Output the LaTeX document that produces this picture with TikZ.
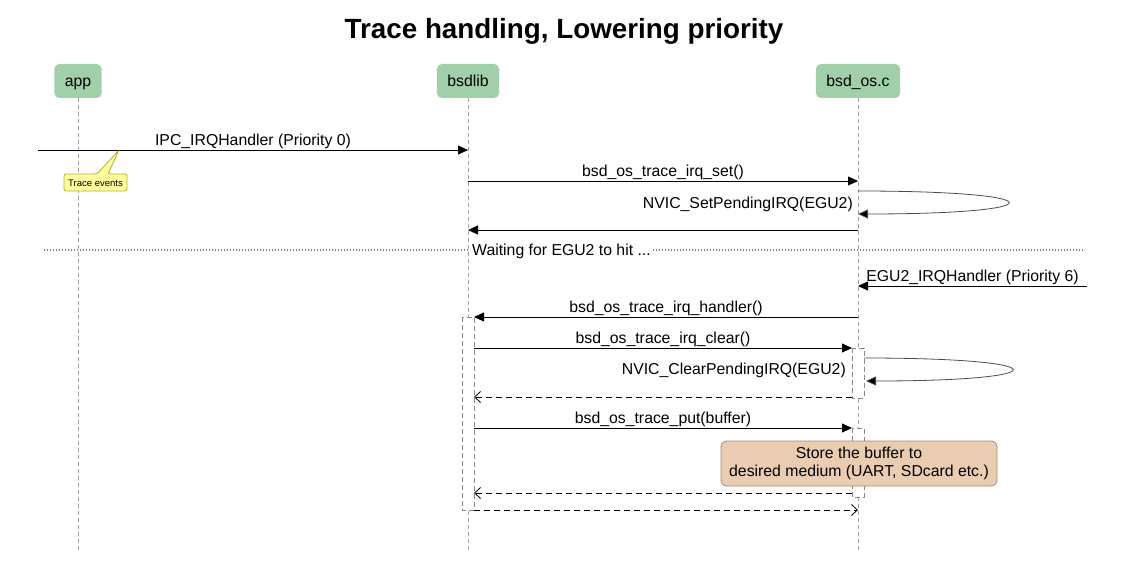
\documentclass[tikz,border=0pt]{standalone}
\usepackage{fontspec}
\setmainfont{Liberation Sans}
\usetikzlibrary{arrows.meta}

\definecolor{headgreen}{RGB}{161,207,170}
\definecolor{lifegray}{RGB}{160,160,160}
\definecolor{actgray}{RGB}{135,135,135}
\definecolor{notefill}{RGB}{255,255,158}
\definecolor{notedraw}{RGB}{176,176,60}
\definecolor{storefill}{RGB}{233,204,178}
\definecolor{storedraw}{RGB}{178,140,104}

\tikzset{
  head/.style={fill=headgreen, rounded corners=5pt, minimum height=34pt, inner xsep=10.5pt,
               text height=13pt, text depth=2pt},
  lifeline/.style={draw=lifegray, line width=1pt, dash pattern=on 4pt off 3pt},
  actbox/.style={draw=actgray, fill=white, line width=0.9pt, dash pattern=on 5pt off 3pt},
  call/.style={draw, line width=0.8pt, -{Triangle[length=10pt,width=9pt]}},
  selfcall/.style={draw=black!70, line width=0.8pt, -{Triangle[length=10pt,width=9pt,fill=black]}},
  reply/.style={draw, line width=0.8pt, dash pattern=on 6pt off 4pt, -{Straight Barb[length=6pt,width=11pt]}},
  msg/.style={above=0pt, inner sep=1pt},
}

\begin{document}
\begin{tikzpicture}[x=1pt,y=-1pt,font=\fontsize{15.8}{18.5}\selectfont]
  \useasboundingbox (0,0) rectangle (1128,569);

  \node[font=\fontsize{27.8}{32}\selectfont\bfseries, anchor=base] (title) at (564,39)
    {Trace handling, Lowering priority};

  % heads and lifelines
  \begin{scope}[every node/.style={head}]
    \node (app) at (78,81)  {app};
    \node (lib) at (468,81) {bsdlib};
    \node (os)  at (858,81) {bsd\_os.c};
  \end{scope}

  \coordinate (app-end) at (78,550);
  \coordinate (lib-end) at (468,550);
  \coordinate (os-end)  at (858,550);
  \draw[lifeline] (app) -- (app-end);
  \draw[lifeline] (lib) -- (lib-end);
  \draw[lifeline] (os)  -- (os-end);

  % activations
  \draw[actbox] (462,317) rectangle (474,510);
  \draw[actbox] (852,348) rectangle (864,398);
  \draw[actbox] (852,428) rectangle (864,497);

  % message end points
  \coordinate (ipc)  at (38,150);   \coordinate (l1)  at (468,150);
  \coordinate (l2)   at (468,181);  \coordinate (o2)  at (858,181);
  \coordinate (o3a)  at (858,191);  \coordinate (o3b) at (858,214);
  \coordinate (o4)   at (858,230);  \coordinate (l4)  at (468,230);
  \coordinate (div1) at (44,250);   \coordinate (div2) at (1083,250);
  \coordinate (egu)  at (1087,286); \coordinate (o6)  at (858,286);
  \coordinate (o7)   at (858,317);  \coordinate (l7)  at (474,317);
  \coordinate (l8)   at (474,348);  \coordinate (o8)  at (852,348);
  \coordinate (o9a)  at (864,358);  \coordinate (o9b) at (866,381);
  \coordinate (o10)  at (852,397);  \coordinate (l10) at (474,397);
  \coordinate (l11)  at (474,428);  \coordinate (o11) at (852,428);
  \coordinate (o13)  at (852,493);  \coordinate (l13) at (474,493);
  \coordinate (l14)  at (474,510);  \coordinate (o14) at (858,510);

  % divider
  \draw[black!50, line width=1.1pt, dash pattern=on 1.2pt off 1.8pt] (div1) -- (div2);
  \node[fill=white, inner sep=2pt, anchor=west] (wait) at (470,251) {Waiting for EGU2 to hit ...};

  % messages
  \begin{scope}[every node/.style={msg}]
    \path (ipc) edge[call] node {IPC\_IRQHandler (Priority 0)} (l1);
    \path (l2)  edge[call] node {bsd\_os\_trace\_irq\_set()} (o2);
    \path (o4)  edge[call] (l4);
    \path (egu) edge[call] node {EGU2\_IRQHandler (Priority 6)} (o6);
    \path (o7)  edge[call] node {bsd\_os\_trace\_irq\_handler()} (l7);
    \path (l8)  edge[call] node {bsd\_os\_trace\_irq\_clear()} (o8);
    \path (o10) edge[reply] (l10);
    \path (l11) edge[call] node {bsd\_os\_trace\_put(buffer)} (o11);
    \path (o13) edge[reply] (l13);
    \path (l14) edge[reply] (o14);
  \end{scope}

  % self calls
  \draw[selfcall] (o3a) .. controls +(200,0) and +(200,0) .. (o3b);
  \node[anchor=east, inner sep=1pt] (setpend) at (854,204) {NVIC\_SetPendingIRQ(EGU2)};
  \draw[selfcall] (o9a) .. controls +(197,0) and +(195,0) .. (o9b);
  \node[anchor=east, inner sep=1pt] (clrpend) at (847,370) {NVIC\_ClearPendingIRQ(EGU2)};

  % notes
  \draw[fill=notefill, draw=notedraw, line width=0.8pt, rounded corners=2pt]
    (64,174) -- (97,174) -- (119,150) -- (108,174) -- (127,174) -- (127,191) -- (64,191) -- cycle;
  \node[font=\fontsize{9.5}{11}\selectfont, inner sep=0pt] (trace) at (95.5,183) {Trace events};

  \node[fill=storefill, draw=storedraw, line width=0.8pt, rounded corners=6pt,
        minimum width=276pt, minimum height=45pt, align=center] (store) at (859,463.5)
    {Store the buffer to\\desired medium (UART, SDcard etc.)};

\end{tikzpicture}
\end{document}
